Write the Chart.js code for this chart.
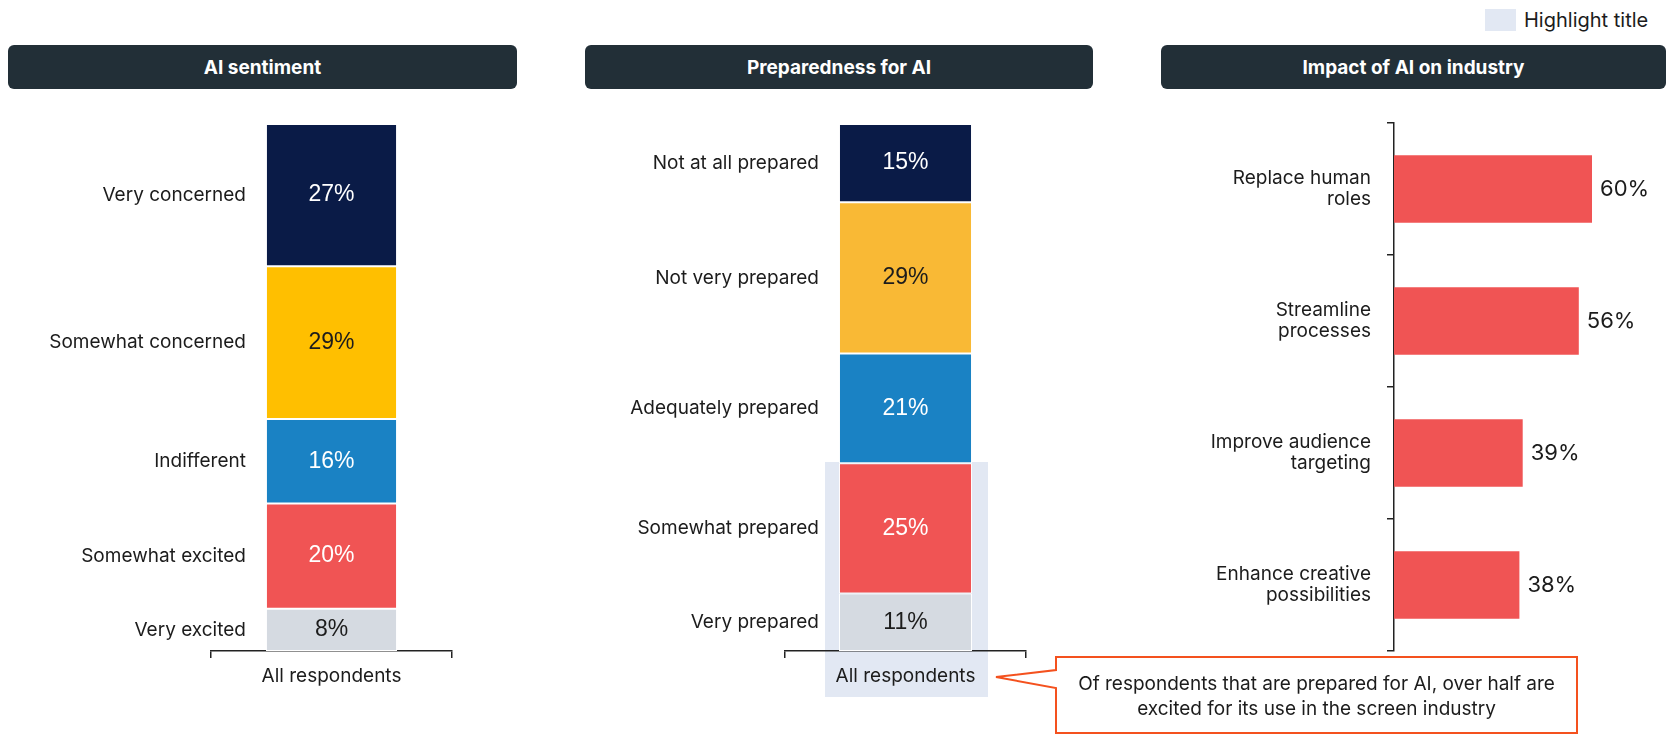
<!DOCTYPE html>
<html>
<head>
<meta charset="utf-8">
<script src="https://cdn.jsdelivr.net/npm/chart.js@4.4.1/dist/chart.umd.min.js"></script>
<style>
  html, body { margin: 0; padding: 0; background: #fff; }
  body { width: 1666px; height: 734px; position: relative; overflow: hidden; font-family: Inter, "Noto Sans", sans-serif; color: #1c1c1c; }
  .abs { position: absolute; }
  .title-bar { position: absolute; top: 45px; height: 44px; background: #222f37; border-radius: 6px; color: #fff; font-weight: 700; font-size: 19px; display: flex; align-items: center; justify-content: center; }
  .chart-box { position: absolute; top: 100px; height: 634px; }
</style>
</head>
<body>

<!-- legend -->
<div class="abs" style="left:1485px; top:9px; width:31px; height:22px; background:#e2e8f3;"></div>
<div class="abs" style="left:1524px; top:7px; font-size:20px; line-height:26px;">Highlight title</div>

<div class="title-bar" style="left:8px; width:509px;">AI sentiment</div>
<div class="title-bar" style="left:585px; width:508px;">Preparedness for AI</div>
<div class="title-bar" style="left:1161px; width:505px;">Impact of AI on industry</div>

<!-- highlight behind the prepared segments -->
<div class="abs" style="left:825px; top:462px; width:163px; height:235px; background:#e2e8f3;"></div>

<div class="chart-box" style="left:0; width:520px;"><canvas id="sentiment-chart"></canvas></div>
<div class="chart-box" style="left:560px; width:520px;"><canvas id="prepared-chart"></canvas></div>
<div class="chart-box" style="left:1160px; width:506px;"><canvas id="impact-chart"></canvas></div>

<!-- callout -->
<svg class="abs" style="left:0; top:0;" width="1666" height="734">
  <path d="M1056 657 L1577 657 L1577 733 L1056 733 L1056 688 L996 677 L1056 670 Z" fill="#fff" stroke="#f4511e" stroke-width="2"/>
</svg>
<div class="abs" style="left:1056px; top:671px; width:521px; text-align:center; font-size:19px; line-height:25px; color:#1c1c1c;">
  Of respondents that are prepared for AI, over half are<br>excited for its use in the screen industry
</div>

<script>
const groupLabel = ['All respondents'];

const sentimentLabels = ['Very concerned', 'Somewhat concerned', 'Indifferent', 'Somewhat excited', 'Very excited'];
const sentimentValues = [27, 29, 16, 20, 8];

const preparedLabels = ['Not at all prepared', 'Not very prepared', 'Adequately prepared', 'Somewhat prepared', 'Very prepared'];
const preparedValues = [15, 29, 21, 25, 11];

const impactLabels = [
  ['Replace human', 'roles'],
  ['Streamline', 'processes'],
  ['Improve audience', 'targeting'],
  ['Enhance creative', 'possibilities'],
];
const impactValues = [60, 56, 39, 38];

// styling
const NAVY = '#0a1b47';
const BLUE = '#1a82c4';
const RED = '#f05454';
const GREY = '#d5dae1';
const INK = '#1c1c1c';

const sentimentColors = [NAVY, '#ffbf00', BLUE, RED, GREY];
const preparedColors = [NAVY, '#f9b935', BLUE, RED, GREY];
const valueTextColors = ['#fff', INK, '#fff', '#fff', INK];

const LABEL_FONT = { family: 'Inter', size: 19 };
const VALUE_FONT = '23px "Liberation Sans", Arial, sans-serif';

// draws the % inside each segment and the category name to its left
const stackLabels = {
  id: 'stackLabels',
  afterDatasetsDraw(chart) {
    const ctx = chart.ctx;
    ctx.save();
    chart.data.datasets.forEach((ds, i) => {
      const bar = chart.getDatasetMeta(i).data[0];
      const { x, y, base, width } = bar.getProps(['x', 'y', 'base', 'width'], true);
      const cy = (y + base) / 2;
      ctx.textBaseline = 'middle';
      ctx.textAlign = 'center';
      ctx.font = VALUE_FONT;
      ctx.fillStyle = valueTextColors[i];
      ctx.fillText(ds.data[0] + '%', x, cy);
      ctx.textAlign = 'right';
      ctx.font = `${LABEL_FONT.size}px ${LABEL_FONT.family}`;
      ctx.fillStyle = INK;
      ctx.fillText(ds.label, x - width / 2 - 20, cy);
    });
    ctx.restore();
  },
};

function stackedChart(id, labels, values, colors, catPct, padding) {
  const total = values.reduce((a, b) => a + b, 0);
  const datasets = labels.map((label, i) => ({
    label: label,
    data: [values[i]],
    backgroundColor: colors[i],
    borderColor: '#fff',
    borderWidth: 1,
    borderSkipped: false,
    barPercentage: 1,
    categoryPercentage: catPct,
  }));

  return new Chart(document.getElementById(id), {
    type: 'bar',
    data: { labels: groupLabel, datasets: datasets },
    plugins: [stackLabels],
    options: {
      responsive: true,
      maintainAspectRatio: false,
      animation: false,
      layout: { padding: padding },
      scales: {
        x: {
          stacked: true,
          grid: { drawOnChartArea: false, drawTicks: true, tickLength: 7, color: '#222', lineWidth: 1.5 },
          border: { display: true, color: '#222', width: 1.5 },
          ticks: { color: INK, font: LABEL_FONT, padding: 7 },
          afterFit: (axis) => { axis.height = 83; },
        },
        y: {
          stacked: true,
          display: false,
          reverse: true,
          min: 0,
          max: total,
        },
      },
      plugins: {
        legend: { display: false },
        tooltip: { enabled: false },
      },
    },
  });
}

stackedChart('sentiment-chart', sentimentLabels, sentimentValues, sentimentColors, 0.544,
  { top: 24, left: 211, right: 68, bottom: 0 });
stackedChart('prepared-chart', preparedLabels, preparedValues, preparedColors, 0.552,
  { top: 24, left: 225, right: 54, bottom: 0 });

// value labels at the end of each horizontal bar
const barEndLabels = {
  id: 'barEndLabels',
  afterDatasetsDraw(chart) {
    const ctx = chart.ctx;
    ctx.save();
    ctx.font = '22px Inter';
    ctx.fillStyle = INK;
    ctx.textAlign = 'left';
    ctx.textBaseline = 'middle';
    chart.getDatasetMeta(0).data.forEach((bar, i) => {
      const { x, y } = bar.getProps(['x', 'y'], true);
      ctx.fillText(impactValues[i] + '%', x + 8, y);
    });
    ctx.restore();
  },
};

new Chart(document.getElementById('impact-chart'), {
  type: 'bar',
  data: {
    labels: impactLabels,
    datasets: [{
      data: impactValues,
      backgroundColor: RED,
      barPercentage: 0.51,
      categoryPercentage: 1,
    }],
  },
  plugins: [barEndLabels],
  options: {
    indexAxis: 'y',
    responsive: true,
    maintainAspectRatio: false,
    animation: false,
    layout: { padding: { top: 23, bottom: 83, left: 0, right: 8 } },
    scales: {
      x: { display: false, min: 0, max: 80 },
      y: {
        grid: { drawOnChartArea: false, drawTicks: true, tickLength: 7, color: '#222', lineWidth: 1.5 },
        border: { display: true, color: '#222', width: 1.5 },
        ticks: { color: INK, font: { family: 'Inter', size: 19, lineHeight: 1.1 }, padding: 16 },
        afterFit: (axis) => {
          axis.width = 234;
          axis.paddingTop = 0;
          axis.paddingBottom = 0;
        },
      },
    },
    plugins: {
      legend: { display: false },
      tooltip: { enabled: false },
    },
  },
});
</script>
</body>
</html>
